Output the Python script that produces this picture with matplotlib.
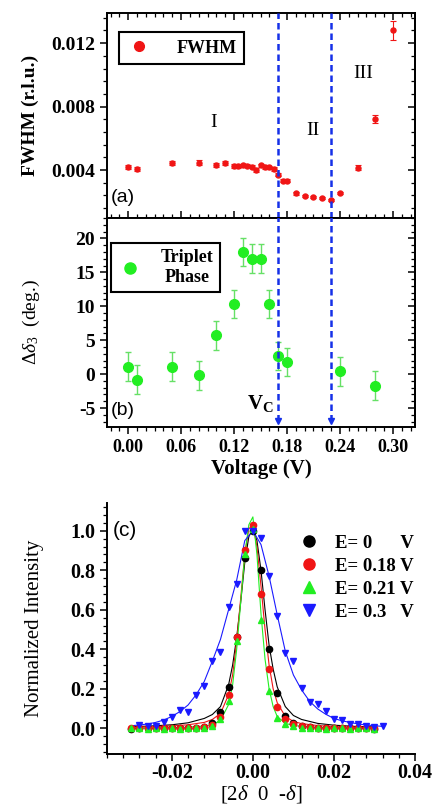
import matplotlib
matplotlib.use('Agg')
import matplotlib.pyplot as plt
from matplotlib.ticker import MultipleLocator, FormatStrFormatter
from matplotlib.lines import Line2D

plt.rcParams['font.family'] = ['Liberation Serif', 'DejaVu Serif']
plt.rcParams['mathtext.fontset'] = 'custom'
plt.rcParams['mathtext.rm'] = 'Liberation Serif'
plt.rcParams['mathtext.it'] = 'Liberation Serif:italic'
plt.rcParams['mathtext.bf'] = 'Liberation Serif:bold'
plt.rcParams['axes.unicode_minus'] = False

# ---------------- data ----------------
# panel (a): FWHM vs voltage
volt_a = [0.00, 0.01, 0.05, 0.08, 0.10, 0.11, 0.12, 0.125, 0.13, 0.135, 0.14, 0.145,
          0.15, 0.155, 0.16, 0.165, 0.17, 0.175, 0.18, 0.19, 0.20, 0.21, 0.22, 0.23,
          0.24, 0.26, 0.28, 0.30]
fwhm = [0.00421, 0.00407, 0.00447, 0.00446, 0.00432, 0.00443, 0.00426, 0.00425, 0.00430,
        0.00428, 0.00421, 0.00400, 0.00429, 0.00419, 0.00417, 0.00408, 0.00370, 0.00334,
        0.00334, 0.00253, 0.00237, 0.00232, 0.00225, 0.00211, 0.00257, 0.00415, 0.00722,
        0.01280]
fwhm_err = [0.00012, 0.00012, 0.00013, 0.00015, 0.00014, 0.00013, 0.00012, 0.00011, 0.00011,
            0.00011, 0.00011, 0.00011, 0.00011, 0.00011, 0.00011, 0.00011, 0.00010, 0.00010,
            0.00010, 0.00007, 0.00007, 0.00007, 0.00007, 0.00008, 0.00008, 0.00016, 0.00028,
            0.00060]

# panel (b): triplet phase vs voltage
volt_b = [0.00, 0.01, 0.05, 0.08, 0.10, 0.12, 0.13, 0.14, 0.15, 0.16, 0.17, 0.18, 0.24, 0.28]
phase = [1.1, -0.8, 1.1, -0.2, 5.7, 10.3, 18.0, 17.0, 17.0, 10.3, 2.7, 1.8, 0.4, -1.7]
phase_err = [2.1] * 14

v_lines = [0.17, 0.23]
region_labels = ['I', 'II', 'III']
region_x = [0.097, 0.209, 0.266]
region_y = [0.0070, 0.0065, 0.0101]

# panel (c): normalized intensity profiles
q_pts = [-0.030, -0.028, -0.026, -0.024, -0.022, -0.020, -0.018, -0.016, -0.014, -0.012,
         -0.010, -0.008, -0.006, -0.004, -0.002, 0.000, 0.002, 0.004, 0.006, 0.008,
         0.010, 0.012, 0.014, 0.016, 0.018, 0.020, 0.022, 0.024, 0.026, 0.028, 0.030]
int_e0 = [-0.005, 0.0, 0.0, 0.0, 0.0, 0.0, 0.0, 0.002, 0.004, 0.008, 0.025, 0.085, 0.21, 0.46,
          0.86, 1.00, 0.80, 0.40, 0.18, 0.06, 0.025, 0.012, 0.006, 0.003, 0.0, 0.0, 0.0,
          0.0, 0.0, 0.0, -0.005]
int_e018 = [0.0, 0.0, 0.0, 0.0, 0.0, 0.0, 0.0, 0.0, 0.002, 0.005, 0.015, 0.055, 0.17, 0.46,
            0.90, 1.03, 0.68, 0.30, 0.11, 0.045, 0.02, 0.01, 0.005, 0.0, 0.0, 0.0, 0.0,
            0.0, 0.0, 0.0, 0.0]
int_e021 = [0.0, 0.0, -0.003, 0.0, -0.003, 0.0, -0.003, 0.0, 0.0, 0.003, 0.01, 0.045, 0.14,
            0.44, 0.88, 1.01, 0.55, 0.19, 0.05, 0.02, 0.01, 0.004, 0.0, 0.0, -0.003, 0.0,
            0.0, -0.003, 0.0, 0.0, -0.003]
q_pts_b = [-0.028, -0.026, -0.024, -0.022, -0.020, -0.018, -0.016, -0.014, -0.012, -0.010,
           -0.008, -0.006, -0.004, -0.002, 0.000, 0.002, 0.004, 0.006, 0.008, 0.010,
           0.012, 0.014, 0.016, 0.018, 0.020, 0.022, 0.024, 0.026, 0.028, 0.030, 0.032]
int_e03 = [0.015, 0.012, 0.010, 0.030, 0.059, 0.092, 0.085, 0.17, 0.215, 0.342, 0.388, 0.615,
           0.73, 1.0, 1.0, 0.965, 0.77, 0.57, 0.38, 0.342, 0.205, 0.135, 0.122, 0.09,
           0.045, 0.04, 0.023, 0.024, 0.01, 0.005, 0.01]

# fitted curves
q_fit = [-0.030, -0.025, -0.020, -0.016, -0.012, -0.010, -0.008, -0.006, -0.005, -0.004,
         -0.003, -0.002, -0.001, 0.000, 0.001, 0.002, 0.003, 0.004, 0.005, 0.006, 0.008,
         0.010, 0.012, 0.016, 0.020, 0.025, 0.030]
fit_e0 = [0.008, 0.012, 0.018, 0.028, 0.05, 0.07, 0.11, 0.22, 0.32, 0.46, 0.64, 0.84, 0.97,
          1.01, 0.95, 0.80, 0.60, 0.42, 0.30, 0.21, 0.11, 0.065, 0.045, 0.025, 0.016, 0.01,
          0.007]
fit_e018 = [0.005, 0.008, 0.012, 0.018, 0.03, 0.045, 0.075, 0.17, 0.27, 0.44, 0.66, 0.88,
            1.01, 1.03, 0.92, 0.72, 0.50, 0.32, 0.20, 0.13, 0.06, 0.035, 0.024, 0.014,
            0.009, 0.006, 0.004]
fit_e021 = [0.0, 0.002, 0.004, 0.006, 0.012, 0.018, 0.04, 0.12, 0.22, 0.40, 0.64, 0.88, 1.03,
            1.07, 0.88, 0.58, 0.35, 0.20, 0.11, 0.06, 0.025, 0.015, 0.01, 0.005, 0.003,
            0.002, 0.0]
q_fit_b = [-0.030, -0.028, -0.026, -0.024, -0.022, -0.020, -0.018, -0.016, -0.014, -0.012,
           -0.010, -0.008, -0.006, -0.004, -0.002, 0.000, 0.002, 0.004, 0.006, 0.008,
           0.010, 0.012, 0.014, 0.016, 0.018, 0.020, 0.022, 0.024, 0.026, 0.028, 0.030, 0.032]
fit_e03 = [0.013, 0.017, 0.022, 0.030, 0.042, 0.060, 0.085, 0.118, 0.17, 0.237, 0.34, 0.45,
           0.60, 0.75, 0.95, 1.0, 0.93, 0.77, 0.575, 0.39, 0.27, 0.195, 0.137, 0.098, 0.071,
           0.05, 0.038, 0.03, 0.022, 0.017, 0.013, 0.01]

labels_c = ['E= 0      V', 'E= 0.18 V', 'E= 0.21 V', 'E= 0.3   V']

# ---------------- styling ----------------
RED = '#f01515'
GREEN = '#22ee22'
GREEN_ERR = '#66e066'
BLUE = '#1a1aff'
DASH_BLUE = '#1530e8'
SPW = 1.4

fig = plt.figure(figsize=(4.33, 8.08), dpi=100)
axa = fig.add_axes([0.2471, 0.7302, 0.7113, 0.2537])
axb = fig.add_axes([0.2471, 0.4715, 0.7113, 0.2587], sharex=axa)
axc = fig.add_axes([0.2471, 0.0668, 0.7113, 0.3106])

for ax in (axa, axb, axc):
    for s in ax.spines.values():
        s.set_linewidth(SPW)

# ---- panel (a)
axa.errorbar(volt_a, fwhm, yerr=fwhm_err, fmt='o', ms=3.6, color=RED, ecolor=RED,
             elinewidth=0.8, capsize=2.2, capthick=0.8, zorder=3)
for v in v_lines:
    axa.axvline(v, color=DASH_BLUE, lw=1.8, dashes=(2.6, 1.6), zorder=4)
for lab, x, y in zip(region_labels, region_x, region_y):
    axa.text(x, y, lab, fontsize=14, ha='center', va='center')
axa.text(-0.020, 0.00225, '(a)', fontsize=14, family='Liberation Sans', ha='left', va='center')
axa.set_xlim(-0.024, 0.325)
axa.set_ylim(0.00098, 0.0139)
axa.yaxis.set_major_locator(MultipleLocator(0.004))
axa.yaxis.set_minor_locator(MultipleLocator(0.0008))
axa.yaxis.set_major_formatter(FormatStrFormatter('%.3f'))
axa.set_ylabel('FWHM (r.l.u.)', fontsize=14, fontweight='bold', labelpad=9)
axa.tick_params(axis='x', which='both', labelbottom=False, direction='in', top=True)
axa.tick_params(axis='y', which='both', direction='out', right=False)
axa.tick_params(which='major', length=5, width=1.1)
axa.tick_params(which='minor', length=3, width=0.9)
for t in axa.get_yticklabels():
    t.set_fontsize(14); t.set_fontweight('bold')
axa2 = axa.secondary_yaxis('right')
axa2.yaxis.set_major_locator(MultipleLocator(0.004))
axa2.yaxis.set_minor_locator(MultipleLocator(0.0008))
axa2.tick_params(which='both', direction='in', labelright=False)
axa2.tick_params(which='major', length=5, width=1.1)
axa2.tick_params(which='minor', length=3, width=0.9)
axa2.spines['right'].set_linewidth(SPW)
h_a = Line2D([], [], ls='none', marker='o', ms=7, color=RED)
la = axa.legend([h_a], ['FWHM'], loc='upper left', bbox_to_anchor=(0.039, 0.905),
                frameon=True, fancybox=False, edgecolor='black', framealpha=1,
                prop=dict(size=13, weight='bold'), handletextpad=1.4, borderpad=0.4,
                handlelength=1.4, borderaxespad=0)
la.get_frame().set_linewidth(1.5)

# ---- panel (b)
axb.errorbar(volt_b, phase, yerr=phase_err, fmt='o', ms=7, color=GREEN, ecolor=GREEN_ERR,
             elinewidth=1.0, capsize=2.5, capthick=1.0, zorder=3)
for v in v_lines:
    axb.plot([v, v], [23.5, -6.7], color=DASH_BLUE, lw=1.8, dashes=(2.6, 1.6), zorder=4)
    axb.plot([v], [-6.9], marker='v', ms=4.5, color=DASH_BLUE, zorder=5)
axb.text(0.150, -4.4, r'V$_\mathregular{C}$', fontsize=15, fontweight='bold', ha='center',
         va='center')
axb.text(-0.020, -5.3, '(b)', fontsize=14, family='Liberation Sans', ha='left', va='center')
axb.set_ylim(-7.8, 23.0)
axb.yaxis.set_major_locator(MultipleLocator(5))
axb.yaxis.set_minor_locator(MultipleLocator(1))
axb.xaxis.set_major_locator(MultipleLocator(0.06))
axb.xaxis.set_minor_locator(MultipleLocator(0.01))
axb.xaxis.set_major_formatter(FormatStrFormatter('%.2f'))
axb.set_ylabel(r'$\Delta\delta_3$  (deg.)', fontsize=14, labelpad=24)
axb.set_xlabel('Voltage (V)', fontsize=15, fontweight='bold', labelpad=2)
axb.tick_params(axis='x', which='both', direction='out', top=False)
axb.tick_params(axis='y', which='both', direction='out', right=False)
axb.tick_params(which='major', length=5, width=1.1)
axb.tick_params(which='minor', length=3, width=0.9)
for t in axb.get_yticklabels():
    t.set_fontsize(14); t.set_fontweight('bold')
for t in axb.get_xticklabels():
    t.set_fontsize(13); t.set_fontweight('bold')
axb2 = axb.secondary_yaxis('right')
axb2.yaxis.set_major_locator(MultipleLocator(5))
axb2.yaxis.set_minor_locator(MultipleLocator(1))
axb2.tick_params(which='both', direction='in', labelright=False)
axb2.tick_params(which='major', length=5, width=1.1)
axb2.tick_params(which='minor', length=3, width=0.9)
axb2.spines['right'].set_linewidth(SPW)
h_b = Line2D([], [], ls='none', marker='o', ms=8, color=GREEN)
lb = axb.legend([h_b], ['Triplet\nPhase'], loc='upper left', bbox_to_anchor=(0.013, 0.88),
                frameon=True, fancybox=False, edgecolor='black', framealpha=1,
                prop=dict(size=13, weight='bold'), handletextpad=1.0, borderpad=0.35,
                handlelength=1.4, borderaxespad=0)
lb.get_frame().set_linewidth(1.5)
for t in lb.get_texts():
    t.set_multialignment('center')

# ---- panel (c)
series = [
    (q_pts, int_e0, q_fit, fit_e0, 'black', 'o', 4.5),
    (q_pts, int_e018, q_fit, fit_e018, RED, 'o', 4.5),
    (q_pts, int_e021, q_fit, fit_e021, GREEN, '^', 4.5),
    (q_pts_b, int_e03, q_fit_b, fit_e03, BLUE, 'v', 4.5),
]
handles = []
for qx, iy, fx, fy, col, mk, ms in series:
    axc.plot(fx, fy, color=col, lw=0.8, zorder=2)
    axc.plot(qx, iy, ls='none', marker=mk, ms=ms, color=col, zorder=3)
    handles.append(Line2D([], [], ls='none', marker=mk, ms=8, color=col))
lc = axc.legend(handles, labels_c, loc='upper right', bbox_to_anchor=(1.02, 0.905),
                frameon=False, prop=dict(size=13.5, weight='bold'), handletextpad=0.9,
                labelspacing=0.32, handlelength=1.0, borderaxespad=0)
axc.text(-0.0345, 1.0, '(c)', fontsize=15, family='Liberation Sans', ha='left', va='center')
axc.set_xlim(-0.036, 0.04)
axc.set_ylim(-0.13, 1.14)
axc.xaxis.set_major_locator(MultipleLocator(0.02))
axc.xaxis.set_minor_locator(MultipleLocator(0.004))
axc.xaxis.set_major_formatter(FormatStrFormatter('%.2f'))
axc.yaxis.set_major_locator(MultipleLocator(0.2))
axc.yaxis.set_minor_locator(MultipleLocator(0.04))
axc.yaxis.set_major_formatter(FormatStrFormatter('%.1f'))
axc.spines['top'].set_visible(False)
axc.spines['right'].set_visible(False)
axc.tick_params(which='both', direction='out', top=False, right=False)
axc.tick_params(which='major', length=5, width=1.1)
axc.tick_params(which='minor', length=3, width=0.9)
axc.tick_params(axis='x', pad=1.5)
for t in axc.get_xticklabels() + axc.get_yticklabels():
    t.set_fontsize(14.5); t.set_fontweight('bold')
axc.set_ylabel('Normalized Intensity', fontsize=15, labelpad=19)
axc.set_xlabel(r'[2$\delta$  0  -$\delta$]', fontsize=15, labelpad=0)

fig.savefig('out.png', dpi=100)
